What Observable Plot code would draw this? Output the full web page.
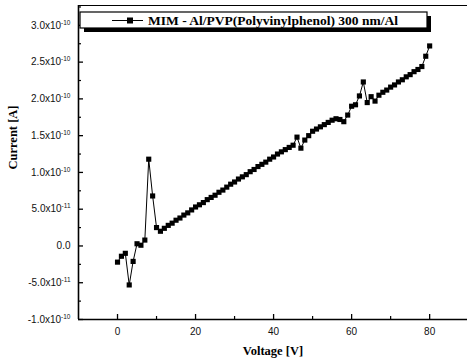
<!DOCTYPE html>
<html><head><meta charset="utf-8">
<script src="https://cdn.jsdelivr.net/npm/d3@7"></script>
<script src="https://cdn.jsdelivr.net/npm/@observablehq/plot@0.6"></script>
<style>body{margin:0;background:#fff}</style>
</head><body><div id="chart"></div>
<script>
// Voltage [V]
const voltage = [0,1,2,3,4,5,6,7,8,9,10,11,12,13,14,15,16,17,18,19,20,21,22,23,24,25,26,27,28,29,30,31,32,33,34,35,36,37,38,39,40,41,42,43,44,45,46,47,48,49,50,51,52,53,54,55,56,57,58,59,60,61,62,63,64,65,66,67,68,69,70,71,72,73,74,75,76,77,78,79,80];
// Current in units of 1e-10 A
const current = [-0.22,-0.14,-0.10,-0.53,-0.21,0.03,0.01,0.08,1.18,0.68,0.25,0.20,0.24,0.28,0.31,0.35,0.38,0.42,0.45,0.49,0.53,0.56,0.59,0.63,0.66,0.69,0.73,0.76,0.80,0.84,0.87,0.91,0.94,0.97,1.01,1.04,1.08,1.11,1.14,1.18,1.21,1.25,1.28,1.31,1.34,1.37,1.48,1.33,1.44,1.50,1.56,1.59,1.62,1.65,1.68,1.71,1.73,1.72,1.69,1.78,1.90,1.92,2.04,2.23,1.95,2.03,1.97,2.05,2.09,2.12,2.16,2.19,2.23,2.26,2.30,2.33,2.37,2.40,2.44,2.58,2.72];
const seriesName = "MIM - Al/PVP(Polyvinylphenol) 300 nm/Al";
const yTicks = [-1,-0.5,0,0.5,1,1.5,2,2.5,3];
const yTickLabels = ["-1.0x10|-10","-5.0x10|-11","0.0","5.0x10|-11","1.0x10|-10","1.5x10|-10","2.0x10|-10","2.5x10|-10","3.0x10|-10"];
const yMinor = [-0.75,-0.25,0.25,0.75,1.25,1.75,2.25,2.75,3.25];
const xTicks = [0,20,40,60,80];
const xMinor = [10,30,50,70];
const xLabel = "Voltage [V]";
const yLabel = "Current [A]";

const data = voltage.map((v,i)=>({v, c: current[i]}));
const W = 467, H = 363, mL = 78, mR = 0, mT = 5, mB = 44;
const pw = W - mL - mR, ph = H - mT - mB;
const serif = "'Liberation Serif','Times New Roman',serif";
const sans = "'Liberation Sans',Arial,sans-serif";

const svg = Plot.plot({
  width: W, height: H,
  marginLeft: mL, marginRight: mR, marginTop: mT, marginBottom: mB,
  style: {fontFamily: sans, background: "#fff"},
  x: {domain: [-10, 89.7]},
  y: {domain: [-1, 3.27]},
  marks: [
    Plot.axisX({ticks: xTicks, tickSize: 0, tickPadding: 8, fontSize: 10, label: null, fill: "#111"}),
    Plot.axisY({ticks: yTicks, tickSize: 0, tickPadding: 8, fontSize: 10, label: null, fill: "#111",
      tickFormat: d => yTickLabels[yTicks.indexOf(d)]}),
    Plot.tickY(yTicks, {y: d=>d, insetRight: pw - 5, stroke: "#000", strokeWidth: 1.3}),
    Plot.tickY(yMinor, {y: d=>d, insetRight: pw - 3, stroke: "#000", strokeWidth: 1.2}),
    Plot.tickX(xTicks, {x: d=>d, insetTop: ph - 5, stroke: "#000", strokeWidth: 1.3}),
    Plot.tickX(xMinor, {x: d=>d, insetTop: ph - 3, stroke: "#000", strokeWidth: 1.2}),
    Plot.ruleX([-10], {stroke: "#000", strokeWidth: 1.6}),
    Plot.ruleY([-1], {stroke: "#000", strokeWidth: 1.4}),
    Plot.ruleY([3.27], {stroke: "#000", strokeWidth: 1.2}),
    Plot.line(data, {x: "v", y: "c", stroke: "#000", strokeWidth: 1}),
    Plot.dot(data, {x: "v", y: "c", symbol: "square", r: 2.9, fill: "#000", stroke: null}),
    Plot.text([yLabel], {text: d=>d, frameAnchor: "left", dx: -66, dy: 7, rotate: -90,
      fontFamily: serif, fontWeight: "bold", fontSize: 12.5, fill: "#000"}),
    Plot.text([xLabel], {text: d=>d, frameAnchor: "bottom", dy: 31, lineAnchor: "middle",
      fontFamily: serif, fontWeight: "bold", fontSize: 12.5, fill: "#000"})
  ]
});

// superscript exponents on y tick labels
const ns = "http://www.w3.org/2000/svg";
svg.querySelectorAll('g[aria-label="y-axis tick label"] text').forEach(t => {
  const s = t.textContent;
  if (s.includes("|")) {
    const [m, e] = s.split("|");
    t.textContent = "";
    const a = document.createElementNS(ns, "tspan"); a.textContent = m; t.appendChild(a);
    const b = document.createElementNS(ns, "tspan"); b.textContent = e;
    b.setAttribute("dy", "-4"); b.setAttribute("font-size", "6.5"); t.appendChild(b);
  }
});

// legend
const lg = d3.select(svg).append("g").attr("text-anchor", "start");
lg.append("rect").attr("x", 84).attr("y", 16).attr("width", 347).attr("height", 16).attr("fill", "#000");
lg.append("rect").attr("x", 80).attr("y", 12).attr("width", 347).attr("height", 16).attr("fill", "#fff").attr("stroke", "#000").attr("stroke-width", 1.2);
lg.append("line").attr("x1", 112).attr("x2", 143).attr("y1", 20.5).attr("y2", 20.5).attr("stroke", "#000").attr("stroke-width", 1);
lg.append("rect").attr("x", 127).attr("y", 17.5).attr("width", 6).attr("height", 6).attr("fill", "#000");
lg.append("text").attr("x", 148).attr("y", 24.5).attr("text-anchor", "start").attr("font-family", serif).attr("font-weight", "bold")
  .attr("font-size", 12).attr("textLength", 250).attr("lengthAdjust", "spacingAndGlyphs").attr("fill", "#000").text(seriesName);

document.getElementById("chart").appendChild(svg);
</script></body></html>
